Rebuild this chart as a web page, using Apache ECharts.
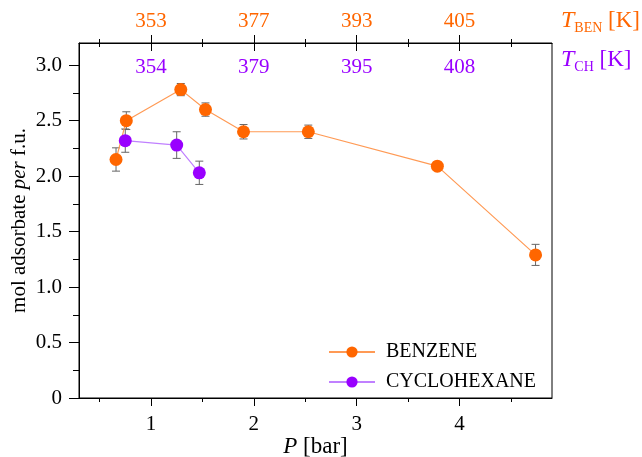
<!DOCTYPE html>
<html>
<head>
<meta charset="utf-8">
<script src="https://cdn.jsdelivr.net/npm/echarts@6/dist/echarts.min.js"></script>
<style>
  html, body { margin: 0; padding: 0; background: #fff; }
  #chart { width: 642px; height: 457px; }
</style>
</head>
<body>
<div id="chart"></div>
<script>
// pressure ticks (bottom) and matching temperatures (top)
const pMajor = [1, 2, 3, 4];
const pMinor = [0.5, 1.5, 2.5, 3.5, 4.5];
const tBen = ['353', '377', '393', '405'];
const tCh = ['354', '379', '395', '408'];
const yMajor = [0, 0.5, 1, 1.5, 2, 2.5, 3];
const yMinor = [0.25, 0.75, 1.25, 1.75, 2.25, 2.75];

// benzene
const benP = [0.66, 0.76, 1.29, 1.53, 1.90, 2.53, 3.785, 4.74];
const benN = [2.15, 2.50, 2.78, 2.60, 2.40, 2.40, 2.09, 1.29];
const benErr = [0.105, 0.08, 0.055, 0.06, 0.065, 0.06, 0.03, 0.095];

// cyclohexane
const chP = [0.75, 1.25, 1.47];
const chN = [2.32, 2.28, 2.03];
const chErr = [0.105, 0.12, 0.105];

const ORANGE = '#ff6600';
const PURPLE = '#9900ff';
const FONT = 'Liberation Serif';

const chart = echarts.init(document.getElementById('chart'));

function pts(xs, ys) { return xs.map((x, i) => [x, ys[i]]); }
function bars(xs, ys, es) { return xs.map((x, i) => [x, ys[i] - es[i], ys[i] + es[i]]); }

function errRender(params, api) {
  const x = api.value(0);
  const lo = api.coord([x, api.value(1)]);
  const hi = api.coord([x, api.value(2)]);
  const w = 4;
  const st = { stroke: '#666', lineWidth: 1 };
  return {
    type: 'group',
    children: [
      { type: 'line', shape: { x1: lo[0], y1: lo[1], x2: hi[0], y2: hi[1] }, style: st },
      { type: 'line', shape: { x1: lo[0] - w, y1: lo[1], x2: lo[0] + w, y2: lo[1] }, style: st },
      { type: 'line', shape: { x1: hi[0] - w, y1: hi[1], x2: hi[0] + w, y2: hi[1] }, style: st }
    ]
  };
}

const base = { type: 'value', min: 0.3, max: 4.9, splitLine: { show: false } };
const lineBlack = { show: true, lineStyle: { color: '#000', width: 1 } };
const tickStyle = { color: '#000', width: 1 };
const lbl = { fontFamily: FONT, fontSize: 21, color: '#000' };

function nameRich(color) {
  return {
    i: { fontFamily: FONT, fontSize: 24, fontStyle: 'italic', color: color, lineHeight: 28 },
    s: { fontFamily: FONT, fontSize: 14, color: color, lineHeight: 4, verticalAlign: 'bottom' },
    n: { fontFamily: FONT, fontSize: 23, color: color, lineHeight: 28 }
  };
}

chart.setOption({
  animation: false,
  backgroundColor: '#fff',
  grid: {
    left: 79, right: 90, top: 43, bottom: 59,
    show: true, borderColor: '#000', borderWidth: 1,
    outerBoundsMode: 'none'
  },
  legend: {
    data: ['BENZENE', 'CYCLOHEXANE'],
    orient: 'vertical',
    left: 323, top: 337,
    itemWidth: 46, itemHeight: 14, itemGap: 10,
    textStyle: { fontFamily: FONT, fontSize: 20, color: '#000', lineHeight: 20, padding: [0, 0, 0, 6] }
  },
  xAxis: [
    Object.assign({}, base, {
      position: 'bottom',
      axisLine: lineBlack,
      axisTick: { show: true, customValues: pMajor, length: 8, lineStyle: tickStyle },
      axisLabel: Object.assign({ customValues: pMajor, margin: 16 }, lbl),
      name: '{i|P}{n| [bar]}', nameLocation: 'middle', nameGap: 37, nameMoveOverlap: false,
      nameTextStyle: { rich: {
        i: { fontFamily: FONT, fontSize: 23, fontStyle: 'italic', color: '#000' },
        n: { fontFamily: FONT, fontSize: 23, color: '#000' }
      } }
    }),
    Object.assign({}, base, {
      position: 'bottom',
      axisLine: { show: false },
      axisTick: { show: true, customValues: pMinor, length: 4, lineStyle: tickStyle },
      axisLabel: { show: false }
    }),
    Object.assign({}, base, {
      position: 'top',
      axisLine: lineBlack,
      axisTick: { show: true, customValues: pMajor, length: 8, lineStyle: tickStyle },
      axisLabel: Object.assign({}, lbl, {
        customValues: pMajor, margin: 11, color: ORANGE,
        formatter: v => tBen[pMajor.indexOf(v)]
      }),
      name: '{i|T}{s|BEN}{n| [K]}', nameLocation: 'end', nameGap: 9, nameMoveOverlap: false,
      nameTextStyle: { align: 'left', verticalAlign: 'middle', padding: [0, 0, 44, 0], rich: nameRich(ORANGE) }
    }),
    Object.assign({}, base, {
      position: 'top',
      axisLine: { show: false },
      axisTick: { show: true, customValues: pMinor, length: 4, lineStyle: tickStyle },
      axisLabel: { show: false }
    }),
    Object.assign({}, base, {
      position: 'top',
      axisLine: { show: false },
      axisTick: { show: true, inside: true, customValues: pMajor, length: 8, lineStyle: tickStyle },
      axisLabel: Object.assign({}, lbl, {
        customValues: pMajor, inside: true, margin: 14, color: PURPLE,
        formatter: v => tCh[pMajor.indexOf(v)]
      }),
      name: '{i|T}{s|CH}{n| [K]}', nameLocation: 'end', nameGap: 9, nameMoveOverlap: false,
      nameTextStyle: { align: 'left', verticalAlign: 'middle', padding: [34, 0, 0, 0], rich: nameRich(PURPLE) }
    }),
    Object.assign({}, base, {
      position: 'top',
      axisLine: { show: false },
      axisTick: { show: true, inside: true, customValues: pMinor, length: 4, lineStyle: tickStyle },
      axisLabel: { show: false }
    })
  ],
  yAxis: [
    {
      type: 'value', min: 0, max: 3.2, position: 'left',
      splitLine: { show: false },
      axisLine: lineBlack,
      axisTick: { show: true, customValues: yMajor, length: 10, lineStyle: tickStyle },
      axisLabel: Object.assign({}, lbl, {
        customValues: yMajor, margin: 17,
        formatter: v => (v === 0 ? '0' : v.toFixed(1))
      }),
      name: '{n|mol adsorbate }{i|per}{n| f.u.}', nameLocation: 'middle', nameGap: 49, nameMoveOverlap: false,
      nameTextStyle: { rich: {
        i: { fontFamily: FONT, fontSize: 21, fontStyle: 'italic', color: '#000' },
        n: { fontFamily: FONT, fontSize: 21, color: '#000' }
      } }
    },
    {
      type: 'value', min: 0, max: 3.2, position: 'left',
      splitLine: { show: false },
      axisLine: { show: false },
      axisTick: { show: true, customValues: yMinor, length: 6, lineStyle: tickStyle },
      axisLabel: { show: false }
    }
  ],
  series: [
    {
      name: 'benErr', type: 'custom', xAxisIndex: 0, yAxisIndex: 0, z: 1,
      renderItem: errRender, data: bars(benP, benN, benErr)
    },
    {
      name: 'chErr', type: 'custom', xAxisIndex: 0, yAxisIndex: 0, z: 1,
      renderItem: errRender, data: bars(chP, chN, chErr)
    },
    {
      name: 'BENZENE', type: 'line', xAxisIndex: 0, yAxisIndex: 0, z: 3,
      data: pts(benP, benN),
      symbol: 'circle', symbolSize: 13,
      itemStyle: { color: ORANGE },
      lineStyle: { color: '#ff9a55', width: 1.2 }
    },
    {
      name: 'CYCLOHEXANE', type: 'line', xAxisIndex: 0, yAxisIndex: 0, z: 4,
      data: pts(chP, chN),
      symbol: 'circle', symbolSize: 13,
      itemStyle: { color: PURPLE },
      lineStyle: { color: '#c080ff', width: 1.2 }
    }
  ]
});
</script>
</body>
</html>
